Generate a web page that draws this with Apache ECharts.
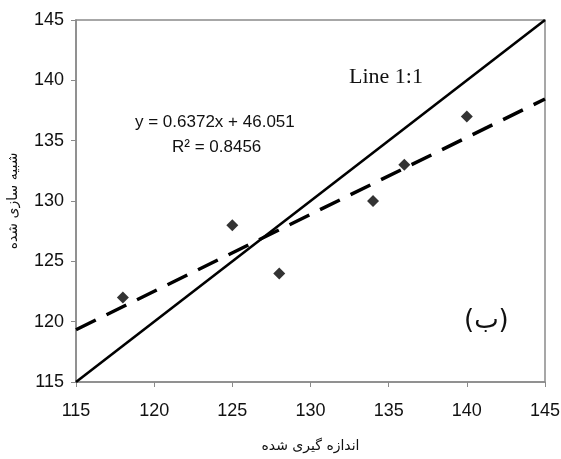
<!DOCTYPE html>
<html><head><meta charset="utf-8">
<script src="https://cdn.jsdelivr.net/npm/echarts@6/dist/echarts.min.js"></script>
<style>html,body{margin:0;padding:0;background:#fff}#c{width:561px;height:459px}</style>
</head><body><div id="c"></div>
<script>
const measured = [118, 125, 128, 134, 136, 140];
const simulated = [122, 128, 124, 130, 133, 137];
const oneToOne = [[115, 115], [145, 145]];
const trendX = [115, 145];
const trendY = [119.33, 138.45];
const xTicks = [115, 120, 125, 130, 135, 140, 145];
const yTicks = [115, 120, 125, 130, 135, 140, 145];

const chart = echarts.init(document.getElementById('c'));
const axisCommon = {
  type: 'value', min: 115, max: 145, interval: 5,
  axisLine: {show: true, lineStyle: {color: '#8a8a8a', width: 1.5}},
  axisTick: {show: true, inside: false, length: 5, lineStyle: {color: '#8a8a8a'}},
  splitLine: {show: false},
  axisLabel: {color: '#111', fontSize: 18, fontFamily: 'Liberation Sans, Arial'}
};
chart.setOption({
  animation: false,
  backgroundColor: '#fff',
  grid: {left: 76, top: 20, right: 16, bottom: 77, show: true, borderColor: '#8a8a8a', borderWidth: 1.5,
         containLabel: false, outerBoundsMode: 'none'},
  xAxis: Object.assign({}, axisCommon, {
    axisLabel: Object.assign({}, axisCommon.axisLabel, {margin: 20}),
    name: 'اندازه گیری شده', nameLocation: 'middle', nameGap: 57,
    nameTextStyle: {fontSize: 14, color: '#111', fontFamily: 'DejaVu Sans'}
  }),
  yAxis: Object.assign({}, axisCommon, {
    axisLabel: Object.assign({}, axisCommon.axisLabel, {margin: 12}),
    name: 'شبیه سازی شده', nameLocation: 'middle', nameGap: 56, nameRotate: 90,
    nameTextStyle: {fontSize: 14, color: '#111', fontFamily: 'DejaVu Sans'}
  }),
  series: [
    {type: 'line', data: oneToOne, showSymbol: false, lineStyle: {color: '#000', width: 2.6}},
    {type: 'line', data: trendX.map((x, i) => [x, trendY[i]]), showSymbol: false,
     lineStyle: {color: '#000', width: 3.5, type: [22, 12]}},
    {type: 'scatter', data: measured.map((x, i) => [x, simulated[i]]), symbol: 'diamond', symbolSize: 12,
     itemStyle: {color: '#000'}}
  ],
  graphic: [
    {type: 'text', left: 349, top: 66, style: {text: 'Line 1:1', fontSize: 22, fontFamily: 'Liberation Serif', fill: '#111'}},
    {type: 'text', left: 135, top: 114, style: {text: 'y = 0.6372x + 46.051', fontSize: 17, fontFamily: 'Liberation Sans', fill: '#111'}},
    {type: 'text', left: 172, top: 139, style: {text: 'R² = 0.8456', fontSize: 17, fontFamily: 'Liberation Sans', fill: '#111'}},
    {type: 'text', left: 464, top: 308, style: {text: '(ب)', fontSize: 26, fontFamily: 'DejaVu Sans', fill: '#111'}}
  ]
});
</script></body></html>
